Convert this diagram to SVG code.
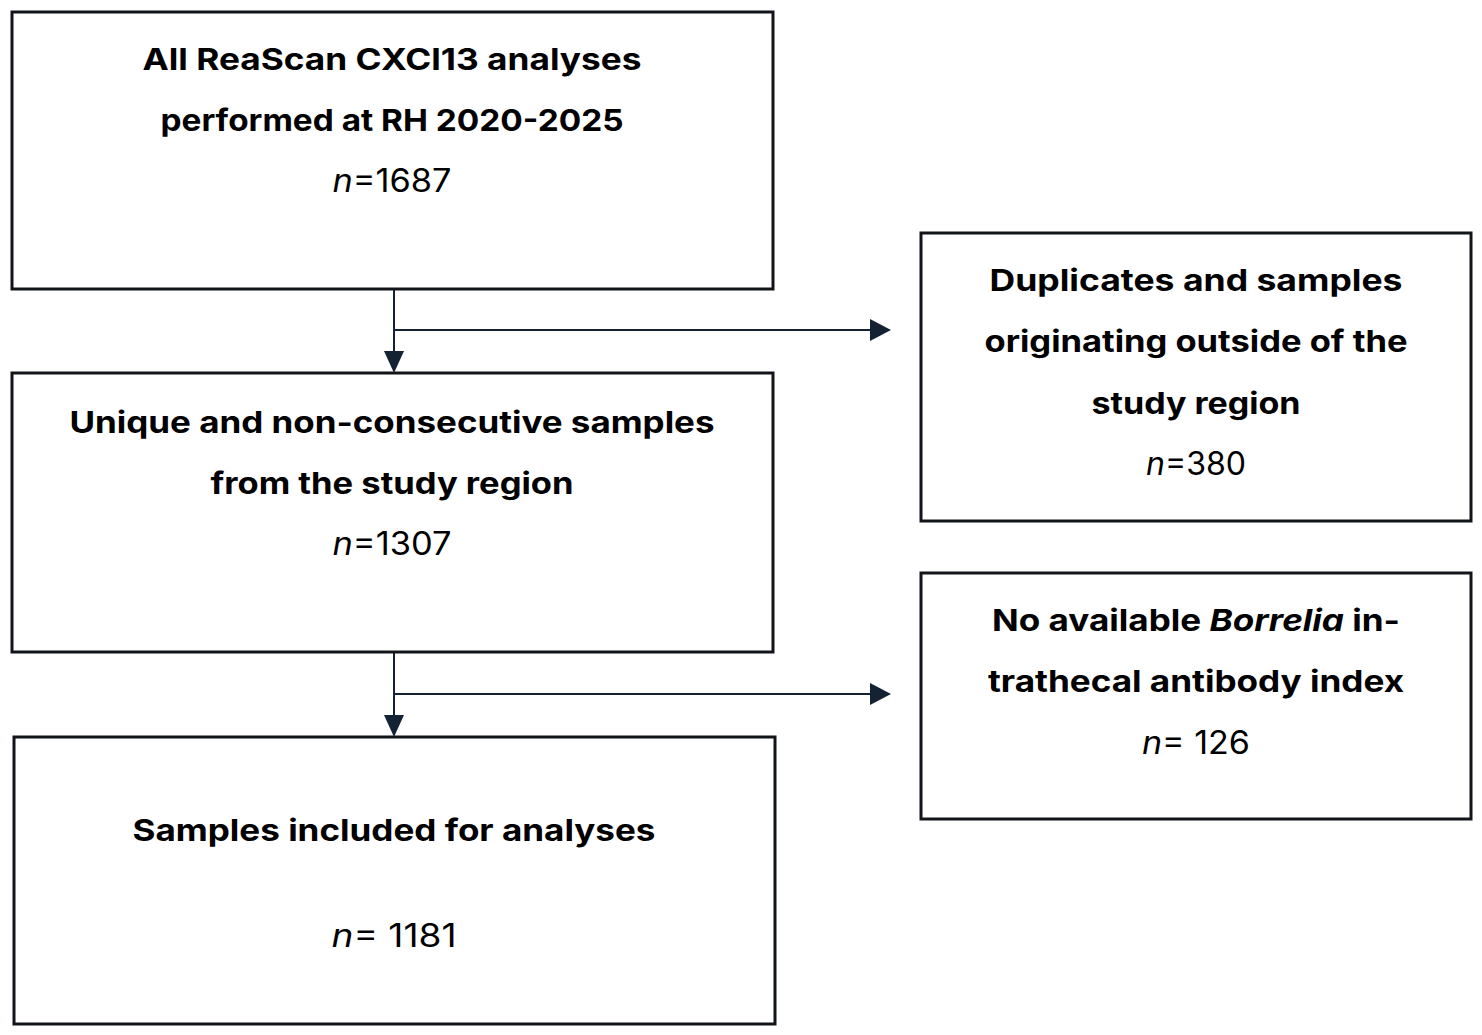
<svg xmlns="http://www.w3.org/2000/svg" width="1482" height="1035" viewBox="0 0 1482 1035">
<defs>
<style>
.box{fill:#ffffff;stroke:#111418;stroke-width:3}
.t{font-family:Inter,"Liberation Sans",sans-serif;font-size:30px;font-weight:700;fill:#000;text-anchor:middle}
.n{font-family:Inter,"Liberation Sans",sans-serif;font-size:32px;font-weight:400;fill:#000;text-anchor:middle}
.i{font-style:italic}
.c{fill:none;stroke:#132333;stroke-width:2}
</style>
</defs>
<rect width="1482" height="1035" fill="#ffffff"/>
<g id="connectors">
<path class="c" d="M394,289 V353"/>
<path d="M384,351 L404,351 L394,373 Z" fill="#132333"/>
<path class="c" d="M394,330 H874"/>
<path d="M870,319 L891,330 L870,341 Z" fill="#132333"/>
<path class="c" d="M394,652 V717"/>
<path d="M384,715 L404,715 L394,737 Z" fill="#132333"/>
<path class="c" d="M394,694 H874"/>
<path d="M870,683 L891,694 L870,705 Z" fill="#132333"/>
</g>
<g id="node-all">
<rect class="box" x="12" y="12" width="761" height="277"/>
<text class="t" x="392" y="70" textLength="499" lengthAdjust="spacingAndGlyphs">All ReaScan CXCl13 analyses</text>
<text class="t" x="392" y="131" textLength="463" lengthAdjust="spacingAndGlyphs">performed at RH 2020-2025</text>
<text class="n" x="392" y="192" textLength="119" lengthAdjust="spacingAndGlyphs"><tspan class="i">n</tspan>=1687</text>
</g>
<g id="node-unique">
<rect class="box" x="12" y="373" width="761" height="279"/>
<text class="t" x="392" y="433" textLength="645" lengthAdjust="spacingAndGlyphs">Unique and non-consecutive samples</text>
<text class="t" x="392" y="494" textLength="363" lengthAdjust="spacingAndGlyphs">from the study region</text>
<text class="n" x="392" y="555" textLength="119" lengthAdjust="spacingAndGlyphs"><tspan class="i">n</tspan>=1307</text>
</g>
<g id="node-included">
<rect class="box" x="14" y="737" width="761" height="287"/>
<text class="t" x="394" y="841" textLength="523" lengthAdjust="spacingAndGlyphs">Samples included for analyses</text>
<text class="n" x="394" y="947" textLength="125" lengthAdjust="spacingAndGlyphs"><tspan class="i">n</tspan>= 1181</text>
</g>
<g id="node-duplicates">
<rect class="box" x="921" y="233" width="550" height="288"/>
<text class="t" x="1196" y="291" textLength="413" lengthAdjust="spacingAndGlyphs">Duplicates and samples</text>
<text class="t" x="1196" y="352" textLength="423" lengthAdjust="spacingAndGlyphs">originating outside of the</text>
<text class="t" x="1196" y="414" textLength="209" lengthAdjust="spacingAndGlyphs">study region</text>
<text class="n" x="1196" y="475" textLength="100" lengthAdjust="spacingAndGlyphs"><tspan class="i">n</tspan>=380</text>
</g>
<g id="node-noindex">
<rect class="box" x="921" y="573" width="550" height="246"/>
<text class="t" x="1196" y="631" textLength="408" lengthAdjust="spacingAndGlyphs">No available <tspan class="i">Borrelia</tspan> in-</text>
<text class="t" x="1196" y="692" textLength="416" lengthAdjust="spacingAndGlyphs">trathecal antibody index</text>
<text class="n" x="1196" y="754" textLength="108" lengthAdjust="spacingAndGlyphs"><tspan class="i">n</tspan>= 126</text>
</g>
</svg>
